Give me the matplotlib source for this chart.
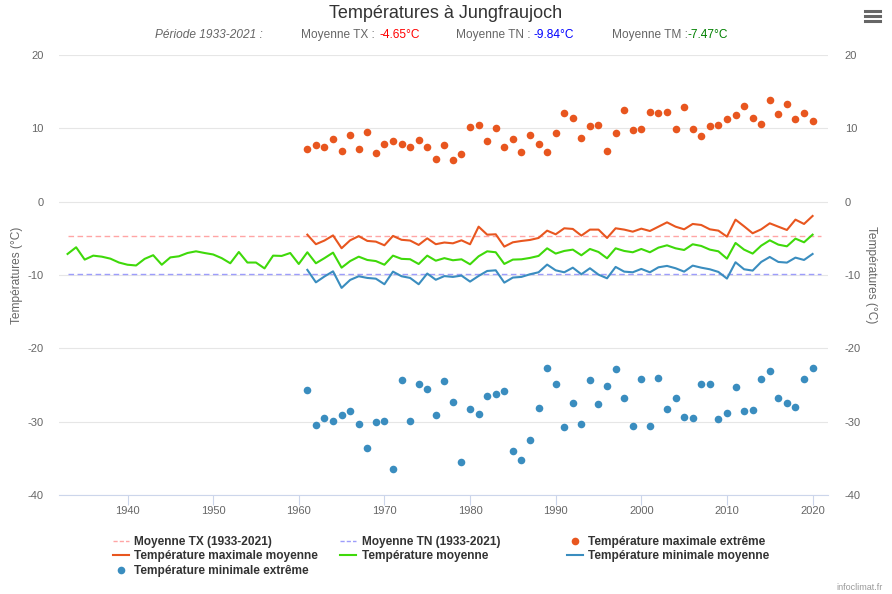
import numpy as np
import matplotlib
matplotlib.use("Agg")
import matplotlib.pyplot as plt
from matplotlib.lines import Line2D

plt.rcParams['font.family'] = ['Liberation Sans', 'DejaVu Sans']
plt.rcParams['axes.unicode_minus'] = False

# --- data ---
tm_years = list(range(1933, 2021))
tm_mean = [
    -7.13, -6.22, -7.90, -7.36, -7.50, -7.77, -8.30, -8.60, -8.70, -7.80,
    -7.30, -8.60, -7.60, -7.45, -7.00, -6.77, -7.00, -7.20, -7.70, -8.40,
    -6.86, -8.30, -8.30, -9.10, -7.36, -7.40, -7.00, -8.50, -6.90, -8.40,
    -7.70, -6.95, -9.00, -8.10, -7.50, -7.95, -8.10, -8.60, -7.36, -7.80,
    -7.85, -8.50, -7.36, -8.05, -7.70, -7.99, -7.86, -8.54, -7.45, -6.77,
    -6.90, -8.49, -7.90, -7.86, -7.67, -7.40, -6.36, -7.08, -6.72, -6.54,
    -7.31, -6.45, -6.86, -7.72, -6.36, -6.72, -6.90, -6.45, -6.90, -6.27,
    -5.95, -6.36, -6.59, -5.81, -6.04, -6.54, -6.77, -7.77, -5.63, -6.54,
    -7.08, -6.00, -5.27, -5.86, -6.09, -5.04, -5.54, -4.50,
]

years = list(range(1961, 2021))
tx_mean = [
    -4.50, -5.80, -5.30, -4.60, -6.35, -5.27, -4.70, -5.35, -5.45, -5.95,
    -4.67, -5.20, -5.30, -5.90, -5.00, -5.80, -5.57, -5.68, -5.27, -5.81,
    -3.41, -4.50, -4.45, -6.13, -5.54, -5.36, -5.22, -4.95, -3.95, -4.45,
    -3.63, -3.72, -4.63, -3.81, -3.81, -4.95, -3.63, -3.81, -4.09, -3.68,
    -4.00, -3.41, -2.82, -3.41, -3.77, -3.04, -3.18, -3.77, -3.95, -4.77,
    -2.45, -3.36, -4.31, -3.77, -2.95, -3.41, -3.86, -2.45, -3.04, -1.95,
]
tn_mean = [
    -9.30, -11.00, -10.20, -9.50, -11.76, -10.67, -10.17, -10.40, -10.50, -11.26,
    -9.54, -10.17, -10.40, -11.26, -9.80, -10.65, -10.15, -10.26, -10.08, -10.90,
    -10.13, -9.45, -9.36, -11.04, -10.35, -10.26, -9.90, -9.63, -8.58, -9.36,
    -9.63, -9.00, -9.90, -9.08, -9.95, -10.45, -8.90, -9.54, -9.63, -9.17,
    -9.63, -8.95, -8.76, -9.08, -9.54, -8.72, -9.00, -9.22, -9.58, -10.49,
    -8.26, -9.22, -9.40, -8.22, -7.54, -8.22, -8.31, -7.63, -7.95, -7.13,
]
tx_extreme = [
    7.13, 7.67, 7.40, 8.49, 6.86, 9.04, 7.13, 9.45, 6.58, 7.81,
    8.22, 7.86, 7.40, 8.36, 7.40, 5.77, 7.67, 5.63, 6.45, 10.13,
    10.40, 8.22, 9.99, 7.40, 8.49, 6.72, 9.04, 7.86, 6.72, 9.31,
    12.03, 11.35, 8.63, 10.26, 10.40, 6.86, 9.31, 12.44, 9.72, 9.85,
    12.17, 12.03, 12.17, 9.85, 12.85, 9.85, 8.90, 10.26, 10.40, 11.22,
    11.76, 12.99, 11.35, 10.54, 13.80, 11.90, 13.26, 11.22, 12.03, 10.94,
]
tn_extreme = [
    -25.70, -30.47, -29.52, -29.93, -29.11, -28.57, -30.34, -33.60, -30.06, -29.93,
    -36.47, -24.34, -29.93, -24.89, -25.57, -29.11, -24.48, -27.34, -35.51, -28.29,
    -28.97, -26.52, -26.25, -25.84, -34.01, -35.24, -32.52, -28.16, -22.71, -24.89,
    -30.75, -27.48, -30.34, -24.34, -27.61, -25.16, -22.84, -26.79, -30.61, -24.21,
    -30.61, -24.07, -28.29, -26.79, -29.38, -29.52, -24.89, -24.89, -29.66, -28.84,
    -25.30, -28.57, -28.43, -24.21, -23.12, -26.79, -27.48, -28.02, -24.21, -22.71,
]

period = [1933, 2021]
moy_tx = -4.65
moy_tn = -9.84
moy_tm = -7.47
yticks = [20, 10, 0, -10, -20, -30, -40]
xticks = [1940, 1950, 1960, 1970, 1980, 1990, 2000, 2010, 2020]

c_tx = '#e8561f'
c_tm = '#3fd90a'
c_tn = '#3a8dbf'
c_txm = '#ffa5a5'
c_tnm = '#9d9dfb'
grey = '#666666'

fig = plt.figure(figsize=(8.92, 5.94), dpi=100)
ax = fig.add_axes([59 / 892, 1 - 495 / 594, (828 - 59) / 892, (495 - 55) / 594])

ax.plot(period, [moy_tx, moy_tx], color=c_txm, lw=1.0, ls=(0, (4, 2.5)), zorder=2)
ax.plot(period, [moy_tn, moy_tn], color=c_tnm, lw=1.0, ls=(0, (4, 2.5)), zorder=2)
ax.plot(years, tx_mean, color=c_tx, lw=1.5, zorder=3)
ax.plot(tm_years, tm_mean, color=c_tm, lw=1.5, zorder=3)
ax.plot(years, tn_mean, color=c_tn, lw=1.5, zorder=3)
ax.scatter(years, tx_extreme, s=30, color=c_tx, lw=0, zorder=4)
ax.scatter(years, tn_extreme, s=30, color=c_tn, lw=0, zorder=4)

ax.set_xlim(1932.0, 2021.8)
ax.set_ylim(-40, 20)
ax.set_yticks(yticks)
ax.set_xticks(xticks)
ax.grid(axis='y', color='#e6e6e6', lw=0.8, zorder=0)
for s in ['top', 'right', 'left']:
    ax.spines[s].set_visible(False)
ax.spines['bottom'].set_color('#ccd6eb')
ax.spines['bottom'].set_linewidth(0.8)
ax.tick_params(axis='x', colors=grey, labelsize=8, length=7, width=0.8, color='#ccd6eb', pad=1)
ax.tick_params(axis='y', colors=grey, labelsize=8, length=0, pad=11)
ax.set_ylabel('Températures (°C)', color=grey, fontsize=8.6, labelpad=3)

ax2 = ax.twinx()
ax2.set_ylim(-40, 20)
ax2.set_yticks(yticks)
for s in ax2.spines.values():
    s.set_visible(False)
ax2.tick_params(axis='y', colors=grey, labelsize=8, length=0, pad=12)
ax2.set_ylabel('Températures (°C)', color=grey, fontsize=8.6, rotation=270, labelpad=12)

# title / subtitle
fig.text(0.5, 1 - 13 / 594, 'Températures à Jungfraujoch', ha='center', va='center',
         fontsize=13, color='#333333')
sy = 1 - 35 / 594
fig.text(155 / 892, sy, 'Période 1933-2021 :', style='italic', color=grey, fontsize=8.6, va='center')
fig.text(301 / 892, sy, 'Moyenne TX :', color=grey, fontsize=8.6, va='center')
fig.text(379 / 892, sy, f'{moy_tx:.2f}°C', color='#ff0000', fontsize=8.6, va='center')
fig.text(456 / 892, sy, 'Moyenne TN :', color=grey, fontsize=8.6, va='center')
fig.text(534 / 892, sy, f'{moy_tn:.2f}°C', color='#0000ff', fontsize=8.6, va='center')
fig.text(612 / 892, sy, 'Moyenne TM :', color=grey, fontsize=8.6, va='center')
fig.text(688 / 892, sy, f'{moy_tm:.2f}°C', color='#008000', fontsize=8.6, va='center')

# menu icon
for yy in [11, 16, 21]:
    fig.add_artist(Line2D([865 / 892, 880 / 892], [1 - yy / 594] * 2, color='#666666', lw=2.2))

fig.text(883 / 892, 1 - 588 / 594, 'infoclimat.fr', ha='right', va='center', fontsize=6.5, color='#999999')

# legend, three columns
h_txm = Line2D([], [], color=c_txm, lw=1.0, ls=(0, (3, 1.5)))
h_tnm = Line2D([], [], color=c_tnm, lw=1.0, ls=(0, (3, 1.5)))
h_tx = Line2D([], [], color=c_tx, lw=1.5)
h_tm = Line2D([], [], color=c_tm, lw=1.5)
h_tn = Line2D([], [], color=c_tn, lw=1.5)
h_txe = Line2D([], [], color=c_tx, ls='none', marker='o', ms=5.5, mew=0)
h_tne = Line2D([], [], color=c_tn, ls='none', marker='o', ms=5.5, mew=0)

cols = [
    (113, [h_txm, h_tx, h_tne], ['Moyenne TX (1933-2021)', 'Température maximale moyenne',
                                 'Température minimale extrême']),
    (340, [h_tnm, h_tm], ['Moyenne TN (1933-2021)', 'Température moyenne']),
    (567, [h_txe, h_tn], ['Température maximale extrême', 'Température minimale moyenne']),
]
for x0, hs, labs in cols:
    leg = fig.legend(hs, labs, loc='upper left', bbox_to_anchor=(x0 / 892, 1 - 536 / 594),
                     frameon=False, borderpad=0, borderaxespad=0, handlelength=1.35,
                     handletextpad=0.45, labelspacing=0.2,
                     prop={'size': 8.6, 'weight': 'bold'})
    for t in leg.get_texts():
        t.set_color('#333333')

fig.savefig('out.png', dpi=100)
